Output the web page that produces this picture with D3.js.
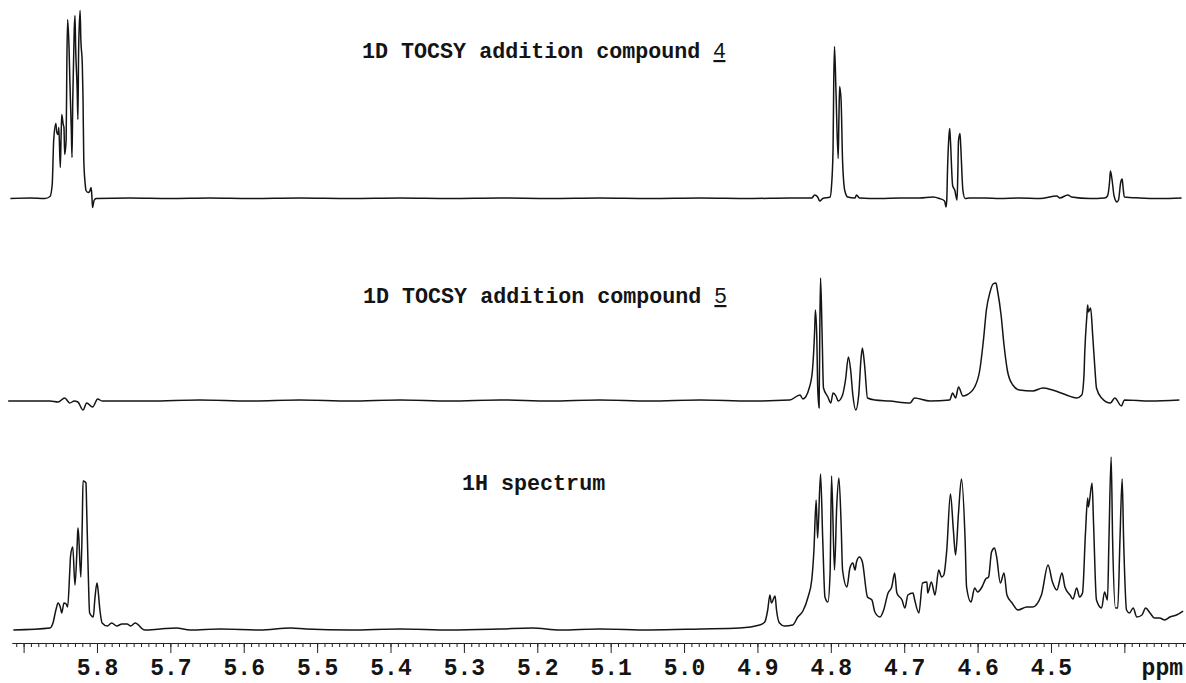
<!DOCTYPE html>
<html>
<head>
<meta charset="utf-8">
<script src="https://cdn.jsdelivr.net/npm/d3@7"></script>
<style>
  body { margin: 0; background: #fff; }
  svg { display: block; }
  .trace { fill: none; stroke: #141414; stroke-width: 1.5; stroke-linejoin: round; }
  .title { font-family: "Liberation Mono", "DejaVu Sans Mono", monospace; font-weight: bold; font-size: 21.7px; fill: #141414; }
  .title .num { font-family: "Liberation Sans", Arial, sans-serif; font-weight: normal; text-decoration: underline; }
  .axis text { font-family: "Liberation Mono", "DejaVu Sans Mono", monospace; font-weight: bold; font-size: 23px; fill: #141414; }
  .axis line, .axis path { stroke: #222; }
</style>
</head>
<body>
<svg id="chart" width="1186" height="683"></svg>
<script>
// [ppm, intensity] pairs (intensity in arbitrary units)
const tocsy4 = [
  [5.918, 0], [5.891, 0.5], [5.871, 0], [5.864, 2], [5.861, 14], [5.859, 58], [5.856, 75], [5.855, 67],
  [5.853, 64], [5.852, 71], [5.850, 31], [5.849, 59], [5.848, 84], [5.846, 74], [5.845, 71], [5.844, 44],
  [5.842, 59], [5.841, 139], [5.840, 179], [5.838, 149], [5.837, 119], [5.835, 69], [5.834, 41], [5.833, 99],
  [5.831, 169], [5.830, 183], [5.829, 149], [5.827, 109], [5.826, 79], [5.825, 149], [5.823, 188], [5.822, 159],
  [5.820, 134], [5.819, 99], [5.818, 39], [5.816, 14], [5.815, 8], [5.812, 6], [5.810, 7], [5.808, 11],
  [5.807, 3], [5.806, -9], [5.804, -2], [5.801, 0], [5.755, 0.5], [5.701, 0], [5.646, 0.5], [5.592, 0],
  [5.524, 0.5], [5.455, 0], [5.387, 0.5], [5.319, 0], [5.251, 0.5], [5.183, 0], [5.115, 0.5], [5.047, 0],
  [4.978, 0.5], [4.910, 0], [4.856, 0.5], [4.826, 0.5], [4.822, 3.5], [4.818, 1.5], [4.815, -2.5], [4.811, 0],
  [4.801, 1.5], [4.799, 13], [4.797, 48], [4.796, 118], [4.795, 152], [4.793, 108], [4.790, 40], [4.789, 78],
  [4.788, 112], [4.786, 98], [4.784, 38], [4.781, 8], [4.777, 1.5], [4.767, 0.5], [4.765, 3.5], [4.761, 0.5],
  [4.733, 0], [4.706, 0.5], [4.679, 0.5], [4.661, 1.5], [4.652, 0], [4.645, -2.5], [4.643, -8.5], [4.642, -1.5],
  [4.641, 28], [4.639, 63], [4.638, 70], [4.637, 58], [4.634, 13], [4.631, 8], [4.628, -1.5], [4.627, 23],
  [4.626, 58], [4.624, 65], [4.623, 53], [4.620, 8], [4.617, 0], [4.611, 0.5], [4.590, 0.5], [4.570, 0],
  [4.543, 0.5], [4.515, 0], [4.492, 2.5], [4.488, 0.5], [4.477, 3.5], [4.472, 1.5], [4.447, 0], [4.427, 0.5],
  [4.423, 2.5], [4.420, 18], [4.419, 27.5], [4.417, 20], [4.414, 2.5], [4.410, -3.5], [4.408, -1.5], [4.405, 16],
  [4.403, 19.5], [4.402, 13], [4.400, 1.5], [4.379, 0.5], [4.352, 0], [4.322, 0.5]
];

const tocsy5 = [
  [5.921, 0], [5.864, 0], [5.853, -1], [5.844, 3], [5.837, -2], [5.831, 0], [5.826, -1], [5.819, -9],
  [5.814, -2], [5.806, -6], [5.799, 2], [5.793, 0], [5.728, 0], [5.660, 1], [5.592, 0], [5.524, 1],
  [5.455, 0], [5.387, 1], [5.319, 0], [5.251, 1], [5.183, 0], [5.115, 1], [5.047, 0], [4.978, 1],
  [4.910, 0], [4.856, 1], [4.842, 6], [4.838, 2], [4.829, 14], [4.825, 31], [4.822, 71], [4.821, 91],
  [4.819, 61], [4.818, 16], [4.816, -7], [4.815, 71], [4.814, 123], [4.812, 71], [4.810, 13], [4.804, 4],
  [4.800, -2], [4.797, 8], [4.793, 5], [4.790, 0], [4.784, 6], [4.780, 21], [4.776, 44], [4.773, 31],
  [4.770, 6], [4.766, -9], [4.762, 6], [4.759, 41], [4.757, 53], [4.754, 36], [4.750, 3], [4.740, 1],
  [4.720, 0], [4.692, -2], [4.686, 3], [4.665, 0], [4.638, 1], [4.634, 8], [4.630, 3], [4.626, 14],
  [4.620, 5], [4.615, 6], [4.604, 14], [4.597, 31], [4.592, 61], [4.588, 91], [4.583, 109], [4.579, 117],
  [4.575, 118], [4.573, 111], [4.568, 86], [4.564, 56], [4.559, 29], [4.552, 16], [4.543, 11], [4.525, 10],
  [4.511, 13], [4.498, 11], [4.479, 6], [4.465, 3], [4.458, 6], [4.455, 26], [4.454, 48], [4.451, 86],
  [4.450, 96], [4.449, 89], [4.446, 93], [4.443, 64], [4.440, 31], [4.438, 13], [4.431, 3], [4.419, -2],
  [4.413, 3], [4.404, -5], [4.400, 1], [4.365, 0], [4.325, 1]
];

const proton = [
  [5.914, -1], [5.864, 1], [5.860, 6], [5.856, 19], [5.853, 26], [5.850, 22], [5.848, 16], [5.845, 26],
  [5.842, 25], [5.840, 22], [5.837, 59], [5.836, 73], [5.833, 82], [5.830, 44], [5.827, 84], [5.826, 101],
  [5.825, 94], [5.822, 52], [5.820, 109], [5.819, 148], [5.816, 147], [5.815, 146], [5.814, 119], [5.812, 59],
  [5.810, 16], [5.805, 12], [5.803, 29], [5.800, 46], [5.799, 42], [5.796, 19], [5.793, 6], [5.786, 3],
  [5.780, 6], [5.773, 3], [5.766, 5], [5.759, 5], [5.754, 3], [5.748, 6], [5.735, -1], [5.714, 0],
  [5.692, 1], [5.673, -1], [5.632, 0], [5.578, -1], [5.536, 1], [5.515, 0], [5.455, -1], [5.387, 0],
  [5.319, -1], [5.251, 0], [5.207, 1], [5.169, -1], [5.115, 0], [5.047, -1], [4.978, 0], [4.924, 1],
  [4.897, 4], [4.890, 7], [4.886, 19], [4.883, 34], [4.881, 26], [4.876, 33], [4.874, 19], [4.870, 6],
  [4.863, 3], [4.852, 4], [4.845, 12], [4.838, 18], [4.831, 32], [4.826, 49], [4.823, 79], [4.820, 129],
  [4.818, 91], [4.814, 155], [4.811, 89], [4.808, 32], [4.804, 27], [4.801, 56], [4.799, 153], [4.795, 59],
  [4.792, 122], [4.789, 151], [4.786, 106], [4.784, 59], [4.778, 42], [4.774, 61], [4.770, 66], [4.767, 59],
  [4.765, 67], [4.761, 72], [4.757, 67], [4.750, 32], [4.744, 29], [4.740, 17], [4.733, 12], [4.728, 19],
  [4.722, 36], [4.717, 42], [4.713, 56], [4.710, 36], [4.703, 29], [4.699, 21], [4.695, 34], [4.688, 36],
  [4.686, 30], [4.680, 16], [4.675, 46], [4.669, 47], [4.668, 36], [4.663, 47], [4.658, 34], [4.653, 59],
  [4.649, 52], [4.646, 54], [4.642, 79], [4.637, 135], [4.633, 99], [4.630, 74], [4.626, 116], [4.622, 150],
  [4.617, 89], [4.615, 42], [4.609, 27], [4.604, 41], [4.600, 37], [4.594, 42], [4.589, 50], [4.585, 52],
  [4.581, 77], [4.577, 81], [4.574, 72], [4.569, 46], [4.564, 56], [4.560, 34], [4.553, 26], [4.545, 19],
  [4.533, 22], [4.525, 22], [4.513, 34], [4.504, 64], [4.498, 47], [4.492, 39], [4.485, 56], [4.481, 42],
  [4.474, 34], [4.470, 30], [4.465, 41], [4.461, 32], [4.457, 36], [4.453, 96], [4.450, 131], [4.449, 122],
  [4.444, 146], [4.442, 106], [4.438, 29], [4.431, 21], [4.427, 37], [4.423, 29], [4.421, 89], [4.418, 172],
  [4.416, 89], [4.412, 21], [4.409, 21], [4.406, 89], [4.403, 150], [4.401, 89], [4.397, 19], [4.393, 16],
  [4.388, 21], [4.383, 12], [4.376, 14], [4.371, 21], [4.365, 16], [4.359, 11], [4.352, 11], [4.345, 9],
  [4.338, 12], [4.329, 14], [4.320, 18]
];

const majorTicks = [5.9, 5.8, 5.7, 5.6, 5.5, 5.4, 5.3, 5.2, 5.1, 5.0, 4.9, 4.8, 4.7, 4.6, 4.5, 4.4];
const tickLabels = ["5.8", "5.7", "5.6", "5.5", "5.4", "5.3", "5.2", "5.1", "5.0", "4.9", "4.8", "4.7", "4.6", "4.5"];

const panels = [
  { data: tocsy4, base: 198.5, title: "1D TOCSY addition compound ", num: "4", tx: 362, ty: 58 },
  { data: tocsy5, base: 401, title: "1D TOCSY addition compound ", num: "5", tx: 363, ty: 303 },
  { data: proton, base: 629, title: "1H spectrum", num: null, tx: 462, ty: 490 }
];

const svg = d3.select("#chart");
const width = +svg.attr("width");

// chemical shift axis runs right to left
const x = d3.scaleLinear().domain([5.9158, 4.316]).range([12, width]);

panels.forEach(p => {
  const y = d3.scaleLinear().domain([0, 200]).range([p.base, p.base - 200]);
  const line = d3.line()
    .x(d => x(d[0]))
    .y(d => y(d[1]))
    .curve(d3.curveMonotoneX);

  svg.append("path")
    .datum(p.data)
    .attr("class", "trace")
    .attr("d", line);

  const t = svg.append("text")
    .attr("class", "title")
    .attr("x", p.tx)
    .attr("y", p.ty)
    .attr("xml:space", "preserve");
  t.append("tspan").text(p.title);
  if (p.num) t.append("tspan").attr("class", "num").text(p.num);
});

// axis: minor ticks every 0.01 ppm, major every 0.1 ppm
const axisY = 643;
const minorTicks = d3.range(432, 592).map(i => i / 100);

svg.append("g")
  .attr("class", "axis")
  .attr("transform", `translate(0,${axisY})`)
  .call(d3.axisBottom(x).tickValues(minorTicks).tickSize(4).tickSizeOuter(0).tickFormat(""));

svg.append("g")
  .attr("class", "axis")
  .attr("transform", `translate(0,${axisY})`)
  .call(d3.axisBottom(x)
    .tickValues(majorTicks)
    .tickSize(10)
    .tickSizeOuter(0)
    .tickPadding(6)
    .tickFormat(d => tickLabels.includes(d.toFixed(1)) ? d.toFixed(1) : ""))
  .call(g => g.select(".domain").attr("stroke-width", 1.2));

svg.append("g")
  .attr("class", "axis")
  .append("text")
  .attr("x", 1183)
  .attr("y", 675)
  .attr("text-anchor", "end")
  .text("ppm");
</script>
</body>
</html>
